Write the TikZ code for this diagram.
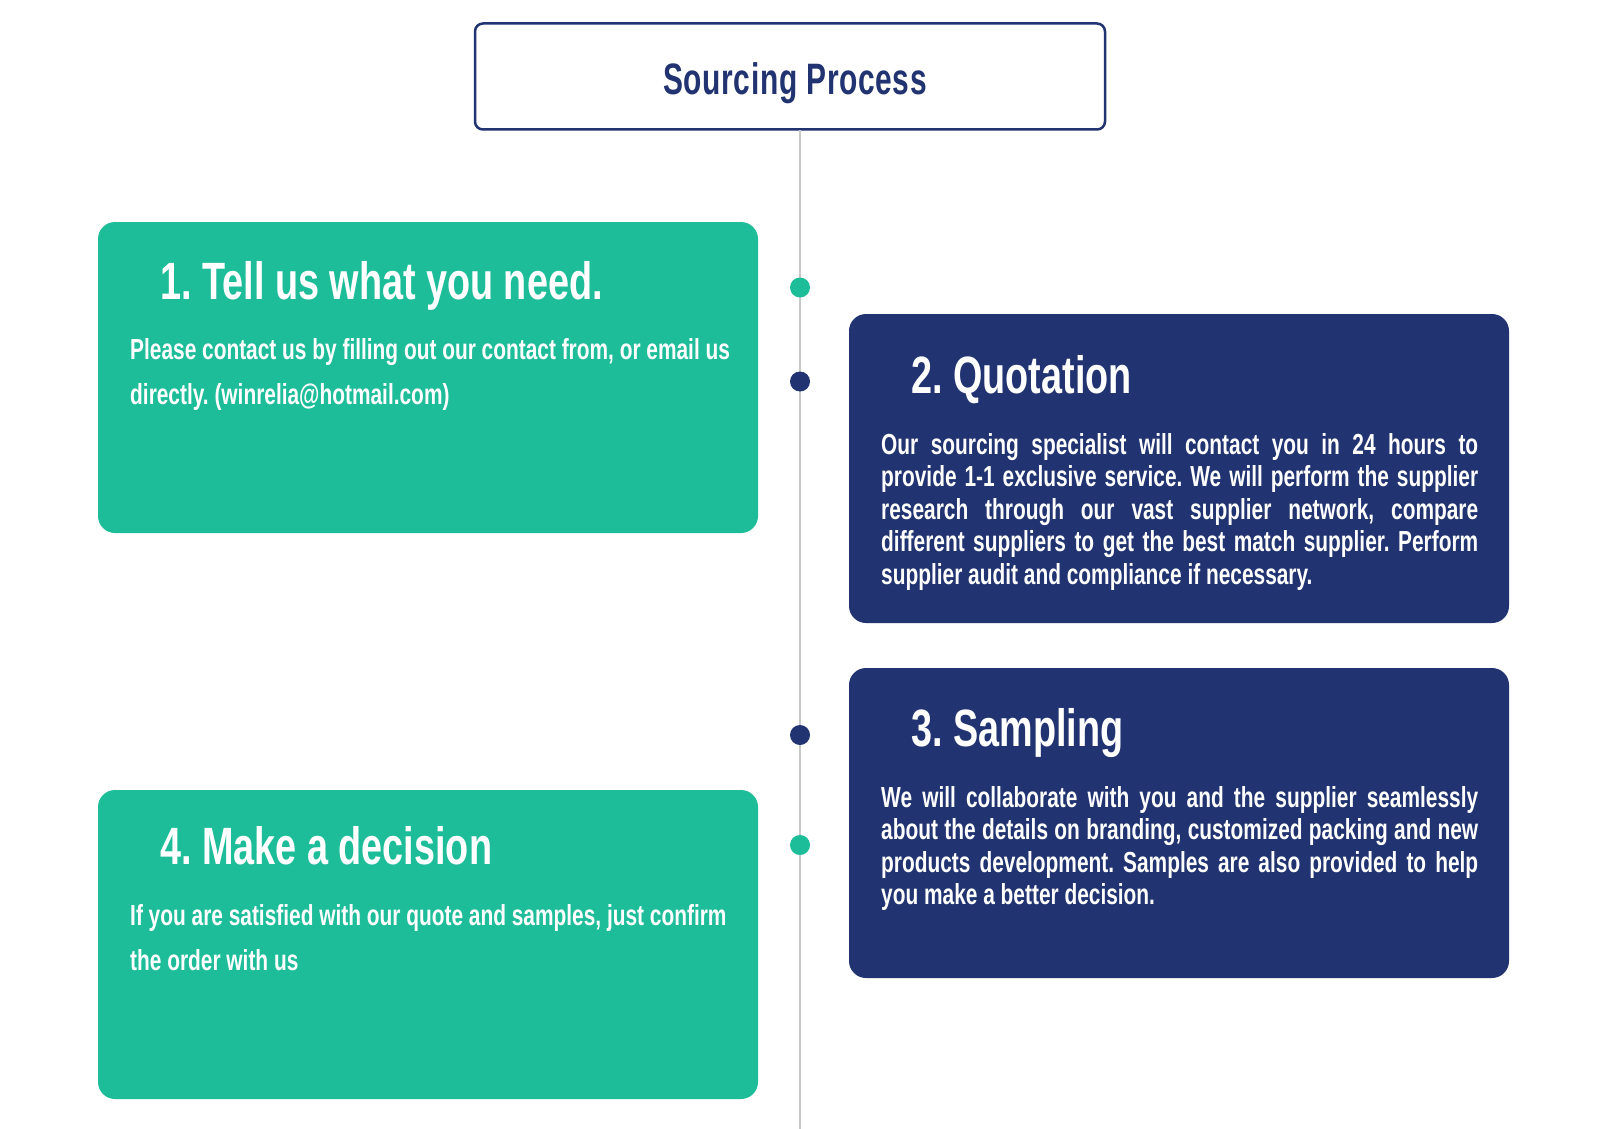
\documentclass[tikz,border=0pt]{standalone}
\usepackage{fontspec}
\newfontfamily\cond[FakeStretch=0.72]{Liberation Sans}
\newfontfamily\condsp[FakeStretch=0.68,LetterSpace=1.5]{Liberation Sans}
\definecolor{teal1}{HTML}{1DBD9A}
\definecolor{navy1}{HTML}{213370}
\definecolor{lineg}{HTML}{C8C8C8}
\frenchspacing
\tikzset{
  card/.style={rectangle, rounded corners=17pt, minimum width=660pt, inner sep=0pt},
  tealcard/.style={card, fill=teal1},
  navycard/.style={card, fill=navy1},
  steptitle/.style={anchor=base west, inner sep=0pt, text=white, font=\cond\bfseries\fontsize{52.5}{60}\selectfont},
  bodyleft/.style={anchor=base west, inner sep=0pt, text=white, text width=700pt, font=\cond\bfseries\fontsize{29}{45}\selectfont},
  bodyjust/.style={anchor=base west, inner sep=0pt, text=white, text width=597pt, align=justify, font=\cond\bfseries\fontsize{29}{32.6}\selectfont},
  dot/.style={circle, minimum size=20pt, inner sep=0pt},
}
\newcommand{\leftpar}{\noindent\raggedright\spaceskip=5.8pt plus 1pt minus 1pt\relax}
\begin{document}
\frenchspacing
\begin{tikzpicture}[x=1pt,y=-1pt]
\useasboundingbox[fill=white] (0,0) rectangle (1600,1129);
% title
\node[rectangle, draw=navy1, line width=2.5pt, rounded corners=8pt, minimum width=630pt, minimum height=106pt, inner sep=0pt] (title) at (790,76.5) {};
\node[anchor=base, inner sep=0pt, text=navy1, font=\condsp\bfseries\fontsize{44}{50}\selectfont] (titletext) at (795,95) {Sourcing Process};
% timeline
\coordinate (bottom) at (800,1129);
\coordinate (linetop) at (800,130);
\draw[lineg, line width=2pt] (linetop) -- (bottom);
\node[dot, fill=teal1] (d1) at (800,287.5) {};
\node[dot, fill=navy1] (d2) at (800,381.5) {};
\node[dot, fill=navy1] (d3) at (800,735) {};
\node[dot, fill=teal1] (d4) at (800,845) {};
% cards
\node[tealcard, minimum height=311pt] (c1) at (428,377.5) {};
\node[navycard, minimum height=309pt] (c2) at (1179,468.5) {};
\node[navycard, minimum height=310pt] (c3) at (1179,823) {};
\node[tealcard, minimum height=309pt] (c4) at (428,944.5) {};
% card 1
\node[steptitle] (t1) at (160,299) {1. Tell us what you need.};
\node[bodyleft] (b1) at (130,359) {\leftpar Please contact us by filling out our contact from, or email us\\directly. (winrelia@hotmail.com)};
% card 2
\node[steptitle] (t2) at (911,393) {2. Quotation};
\node[bodyjust] (b2) at (881,454) {Our sourcing specialist will contact you in 24 hours to\linebreak provide 1-1 exclusive service. We will perform the supplier\linebreak research through our vast supplier network, compare\linebreak different suppliers to get the best match supplier. Perform\linebreak supplier audit and compliance if necessary.};
% card 3
\node[steptitle] (t3) at (911,746) {3. Sampling};
\node[bodyjust] (b3) at (881,807) {We will collaborate with you and the supplier seamlessly\linebreak about the details on branding, customized packing and new\linebreak products development. Samples are also provided to help\linebreak you make a better decision.};
% card 4
\node[steptitle] (t4) at (160,864) {4. Make a decision};
\node[bodyleft] (b4) at (130,925) {\leftpar If you are satisfied with our quote and samples, just confirm\\the order with us};
\end{tikzpicture}
\end{document}
